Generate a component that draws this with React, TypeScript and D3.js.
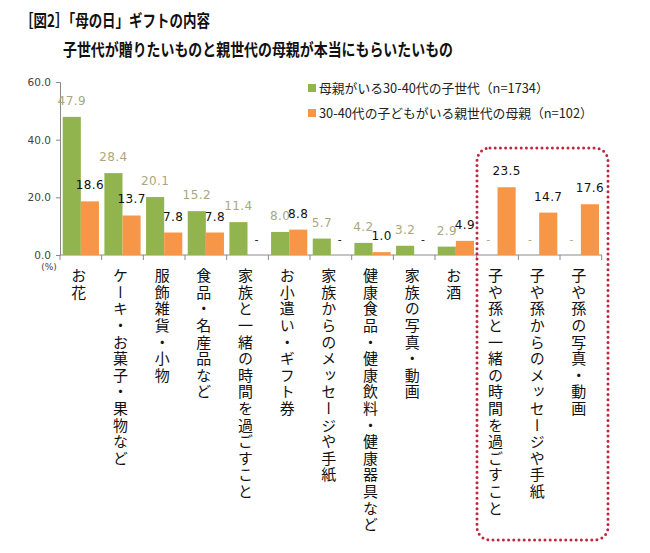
import React, { useEffect, useRef } from "react";
import * as d3 from "d3";

const categories: string[] = [
  "お花",
  "ケーキ・お菓子・果物など",
  "服飾雑貨・小物",
  "食品・名産品など",
  "家族と一緒の時間を過ごすこと",
  "お小遣い・ギフト券",
  "家族からのメッセージや手紙",
  "健康食品・健康飲料・健康器具など",
  "家族の写真・動画",
  "お酒",
  "子や孫と一緒の時間を過ごすこと",
  "子や孫からのメッセージや手紙",
  "子や孫の写真・動画",
];
const childGen: (number | null)[] = [47.9, 28.4, 20.1, 15.2, 11.4, 8.0, 5.7, 4.2, 3.2, 2.9, null, null, null];
const motherGen: (number | null)[] = [18.6, 13.7, 7.8, 7.8, null, 8.8, null, 1.0, null, 4.9, 23.5, 14.7, 17.6];
const seriesNames: string[] = ["母親がいる30-40代の子世代（n=1734）", "30-40代の子どもがいる親世代の母親（n=102）"];
const yTicks: number[] = [0, 20, 40, 60];
const title = "［図2］「母の日」ギフトの内容";
const subtitle = "子世代が贈りたいものと親世代の母親が本当にもらいたいもの";

const GREEN = "#92b44f";
const ORANGE = "#f79646";
const GREEN_LABEL = "#a9a87c";
const CJK = "'Noto Sans CJK JP', sans-serif";
const NUM = "'DejaVu Sans', Verdana, sans-serif";

export default function App() {
  const ref = useRef<SVGSVGElement>(null);

  useEffect(() => {
    const svg = d3.select(ref.current);
    svg.selectAll("*").remove();

    const x = d3.scaleBand<string>().domain(categories).range([60, 601.7]).paddingInner(0).paddingOuter(0);
    const inner = d3.scaleBand<string>().domain(["g", "o"]).range([0, x.bandwidth()]).paddingInner(0).paddingOuter(0.15);
    const y = d3.scaleLinear().domain([0, 60]).range([255, 82]);

    // titles
    svg.append("text").attr("x", 20).attr("y", 27).attr("font-family", CJK).attr("font-weight", 700)
      .attr("font-size", 17).attr("textLength", 190).attr("lengthAdjust", "spacingAndGlyphs").attr("fill", "#111").text(title);
    svg.append("text").attr("x", 63).attr("y", 56).attr("font-family", CJK).attr("font-weight", 700)
      .attr("font-size", 17).attr("textLength", 390).attr("lengthAdjust", "spacingAndGlyphs").attr("fill", "#111").text(subtitle);

    // y axis
    const yAxis = d3.axisLeft(y).tickValues(yTicks).tickFormat(d3.format(".1f")).tickSize(4).tickPadding(5);
    const gy = svg.append("g").attr("transform", "translate(60,0)").call(yAxis);
    gy.selectAll("path, line").attr("stroke", "#8a8a8a");
    gy.selectAll("text").attr("font-family", NUM).attr("font-size", 10.5).attr("fill", "#444");

    // x axis baseline and ticks
    const gx = svg.append("g");
    gx.append("line").attr("x1", 60).attr("x2", 601.7).attr("y1", y(0)).attr("y2", y(0)).attr("stroke", "#8a8a8a");
    const bounds = categories.map((c) => x(c) as number).concat([(x(categories[categories.length - 1]) as number) + x.bandwidth()]);
    gx.selectAll("line.t").data(bounds).enter().append("line").attr("class", "t")
      .attr("x1", (d) => d).attr("x2", (d) => d).attr("y1", y(0)).attr("y2", y(0) + 5).attr("stroke", "#8a8a8a");

    svg.append("text").attr("x", 49).attr("y", 270).attr("text-anchor", "middle").attr("font-family", NUM)
      .attr("font-size", 9).attr("fill", "#444").text("(%)");

    // bars
    const series = [
      { key: "g", values: childGen, color: GREEN, label: GREEN_LABEL },
      { key: "o", values: motherGen, color: ORANGE, label: "#111" },
    ];
    series.forEach((s) => {
      const g = svg.append("g");
      categories.forEach((c, i) => {
        const v = s.values[i];
        const bx = (x(c) as number) + (inner(s.key) as number);
        const bw = inner.bandwidth();
        if (v != null) {
          g.append("rect").attr("x", bx).attr("y", y(v)).attr("width", bw).attr("height", y(0) - y(v)).attr("fill", s.color);
        }
        g.append("text").attr("x", bx + bw / 2).attr("y", y(v ?? 0) - 12).attr("text-anchor", "middle")
          .attr("font-family", NUM).attr("font-size", v == null ? 11 : 12).attr("letter-spacing", 0.4)
          .attr("fill", s.label).text(v == null ? "-" : d3.format(".1f")(v));
      });
    });

    // category labels (vertical)
    svg.append("g").selectAll("text").data(categories).enter().append("text")
      .attr("x", (d) => (x(d) as number) + x.bandwidth() / 2 - 2)
      .attr("y", 268)
      .attr("writing-mode", "vertical-rl")
      .style("writing-mode", "vertical-rl")
      .attr("font-family", CJK).attr("font-size", 15).attr("letter-spacing", 1.6).attr("fill", "#111")
      .text((d) => d);

    // legend
    const lg = svg.append("g");
    seriesNames.forEach((n, i) => {
      const ly = 88 + i * 25;
      lg.append("rect").attr("x", 308).attr("y", ly - 4).attr("width", 8).attr("height", 8).attr("fill", i === 0 ? GREEN : ORANGE);
      lg.append("text").attr("x", 319).attr("y", ly + 4.5).attr("font-family", CJK).attr("font-size", 12.8).attr("fill", "#222").text(n);
    });

    // highlight box
    svg.append("rect").attr("x", 477).attr("y", 148).attr("width", 131).attr("height", 392).attr("rx", 13)
      .attr("fill", "none").attr("stroke", "#c0263e").attr("stroke-width", 3)
      .attr("stroke-dasharray", "0 5.2").attr("stroke-linecap", "round");
  }, []);

  return (
    <svg ref={ref} width={650} height={553}
      style={{ display: "block", background: "#fff", position: "absolute", left: 0, top: 0 }} />
  );
}
